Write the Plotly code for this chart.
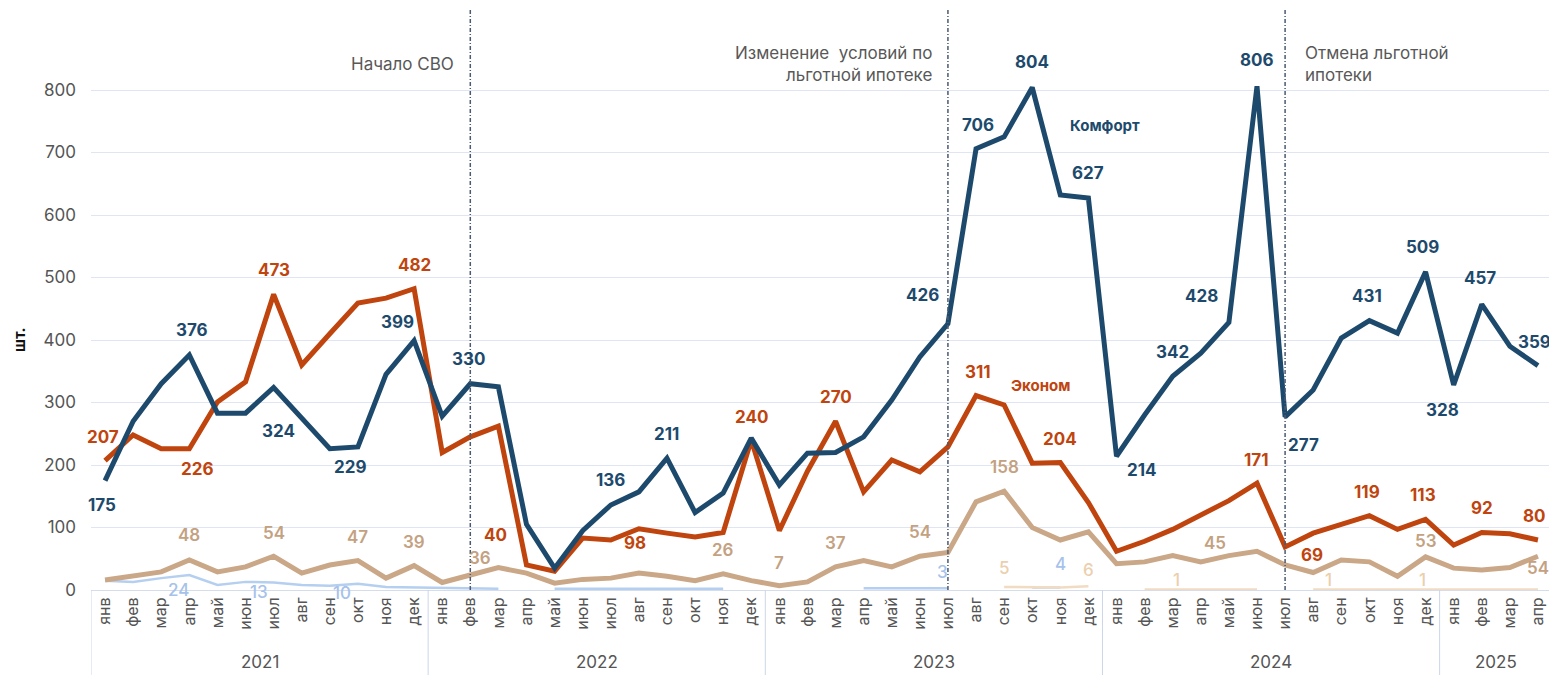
import plotly.graph_objects as go

# ---------------- data ----------------
years = ["2021", "2022", "2023", "2024", "2025"]
months = ["янв", "фев", "мар", "апр", "май", "июн", "июл", "авг", "сен", "окт", "ноя", "дек"]
months_per_year = [12, 12, 12, 12, 4]
month_labels = [m for n in months_per_year for m in months[:n]]

comfort = [175, 270, 330, 376, 283, 283, 324, 275, 226, 229, 345, 399,
           278, 330, 325, 105, 35, 95, 136, 157, 211, 124, 155, 243,
           168, 219, 220, 245, 304, 373, 426, 706, 725, 804, 632, 627,
           214, 280, 342, 379, 428, 806, 277, 320, 403, 431, 411, 509,
           328, 457, 390, 359]
econom = [207, 248, 226, 226, 301, 333, 473, 360, 410, 459, 467, 482,
          220, 245, 262, 40, 30, 83, 80, 98, 91, 85, 92, 240,
          95, 190, 270, 157, 208, 189, 229, 311, 296, 203, 204, 140,
          62, 78, 97, 120, 143, 171, 69, 91, 104, 119, 97, 113,
          72, 92, 90, 80]
business = [16, 22, 29, 48, 29, 37, 54, 27, 40, 47, 19, 39,
            12, 24, 36, 27, 11, 17, 19, 27, 22, 15, 26, 15,
            7, 13, 37, 47, 37, 54, 60, 141, 158, 100, 80, 93,
            42, 45, 55, 45, 55, 62, 40, 28, 48, 45, 22, 53,
            35, 32, 36, 54]
premium = [15, 13, 19, 24, 8, 13, 12, 8, 7, 10, 5, 4,
           3, 2, 2, None, 2, 2, 2, 2, 2, 2, 2, None,
           None, None, None, 3, 3, 3, 3, None, None, 4, 4, None,
           None, None, None, None, None, None, None, None, None, None, None, None,
           None, None, None, None]
elite = [None] * 12 + [None] * 12 + \
        [None, None, None, None, None, None, None, None, 5, 4, 4, 6] + \
        [None, 1, 1, 1, 1, 1, None, 1, 1, 1, 1, 1] + \
        [1, 1, 1, 1]

# indices of the points that carry a value label
comfort_lbl = [0, 3, 6, 9, 11, 13, 18, 20, 30, 31, 33, 35, 36, 38, 40, 41, 42, 45, 47, 48, 49, 51]
econom_lbl = [0, 3, 6, 11, 15, 19, 23, 26, 31, 34, 41, 42, 45, 47, 49, 51]
business_lbl = [3, 6, 9, 11, 14, 22, 24, 26, 29, 32, 39, 47, 51]
premium_lbl = [3, 5, 9, 30, 34]
elite_lbl = [32, 35, 38, 43, 47]

events = [(13, "Начало СВО"), (30, "Изменение  условий по<br>льготной ипотеке"), (42, "Отмена льготной<br>ипотеки")]

# ---------------- style ----------------
BLUE = "#1d4a6c"
ORANGE = "#c0440e"
TAN = "#c9a787"
TAN_TXT = "#c3a181"
LBLUE = "#b5cff0"
LBLUE_TXT = "#a6c2ea"
PEACH = "#f1dcc3"
PEACH_TXT = "#ebcfae"
FONT = "Inter, Open Sans, sans-serif"

# label offsets in pixels (xshift, yshift), same order as label index lists
comfort_off = [(-3, -24), (3, 25), (5, -43), (-8, -20), (-17, 19), (-2, 25), (0, 25), (0, 24),
               (-25, 29), (2, 24), (0, 26), (0, 25), (25, -14), (0, 24), (-27, 27), (0, 26),
               (18, -28), (-2, 25), (-3, 25), (-11, -25), (-2, 26), (-3, 24)]
econom_off = [(-2, 24), (8, -20), (0, 24), (0, 24), (-31, 30), (-4, -14), (0, 23), (0, 24),
              (2, 24), (0, 24), (0, 23), (27, -8), (-2, 24), (-3, 24), (0, 25), (-3, 24)]
business_off = [(0, 25), (0, 23), (0, 24), (0, 24), (-18, 10), (0, 24), (0, 23), (0, 24),
                (0, 24), (0, 24), (14, 19), (0, 16), (0, -12)]
premium_off = [(-11, -15), (13, -10), (-16, -9), (-5, 16), (0, 24)]
elite_off = [(0, 19), (0, 16), (4, 9), (15, 9), (-3, 9)]

x = list(range(len(month_labels)))

fig = go.Figure()
series = [
    ("Премиум", premium, LBLUE, 2.5),
    ("Элит", elite, PEACH, 2.5),
    ("Бизнес", business, TAN, 5),
    ("Эконом", econom, ORANGE, 5),
    ("Комфорт", comfort, BLUE, 5),
]
for name, vals, col, w in series:
    fig.add_trace(go.Scatter(x=x, y=vals, name=name, mode="lines",
                             line=dict(color=col, width=w), connectgaps=False,
                             hoverinfo="x+y+name"))

ann = []


def add_labels(vals, idxs, offs, color, weight, size=17):
    for i, (dx, dy) in zip(idxs, offs):
        ann.append(dict(x=i, y=vals[i], xref="x", yref="y", text=str(vals[i]),
                        showarrow=False, xshift=dx, yshift=dy,
                        font=dict(family=FONT, size=size, color=color, weight=weight)))


add_labels(comfort, comfort_lbl, comfort_off, BLUE, 700)
add_labels(econom, econom_lbl, econom_off, ORANGE, 700)
add_labels(business, business_lbl, business_off, TAN_TXT, 600)
add_labels(premium, premium_lbl, premium_off, LBLUE_TXT, 500)
add_labels(elite, elite_lbl, elite_off, PEACH_TXT, 500)

# series names
ann.append(dict(x=35.6, y=744, xref="x", yref="y", text="Комфорт", showarrow=False,
                font=dict(family=FONT, size=15, color=BLUE, weight=700)))
ann.append(dict(x=33.3, y=328, xref="x", yref="y", text="Эконом", showarrow=False,
                font=dict(family=FONT, size=15, color=ORANGE, weight=700)))

# y-axis unit
ann.append(dict(x=0, y=400, xref="paper", yref="y", text="шт.", showarrow=False,
                textangle=-90, xanchor="center", yanchor="middle", xshift=-72,
                font=dict(family=FONT, size=15, color="#111111", weight=700)))

# event lines and texts
shapes = []
for (ix, txt), side in zip(events, ["left", "left", "right"]):
    shapes.append(dict(type="line", x0=ix, x1=ix, xref="x", y0=0, y1=1, yref="paper",
                       line=dict(color="#4b5a73", width=1.5, dash="4px,2px,1px,2px")))
    ann.append(dict(x=ix, y=842, xref="x", yref="y", text=txt, showarrow=False,
                    xanchor="right" if side == "left" else "left",
                    align="right" if side == "left" else "left",
                    xshift=-14 if side == "left" else 18,
                    font=dict(family=FONT, size=17, color="#585858")))

# year groups and dividers
start = 0
bounds = [-0.5]
for yr, n in zip(years, months_per_year):
    ann.append(dict(x=start + (n - 1) / 2, y=0, xref="x", yref="paper", text=yr,
                    showarrow=False, yanchor="middle", yshift=-72,
                    font=dict(family=FONT, size=17, color="#555555")))
    start += n
    bounds.append(start - 0.5)
for b in bounds:
    shapes.append(dict(type="line", x0=b, x1=b, xref="x", y0=0, y1=-0.16, yref="paper",
                       line=dict(color="#ccd6ea", width=1)))

# the page body has an 8px margin: size and margins compensate for it
fig.update_layout(
    width=1549, height=667,
    margin=dict(l=83, r=5, t=1, b=85, autoexpand=False),
    paper_bgcolor="white", plot_bgcolor="white",
    showlegend=False,
    annotations=ann, shapes=shapes,
    font=dict(family=FONT, color="#555555"),
    xaxis=dict(range=[-0.5, len(x) - 0.5], tickmode="array", tickvals=x, ticktext=month_labels,
               tickangle=-90, showgrid=False, zeroline=False, showline=True, automargin=False,
               linecolor="#d5dcec", linewidth=1, ticks="",
               tickfont=dict(family=FONT, size=16, color="#555555")),
    yaxis=dict(range=[0, 929.6], tickmode="array", tickvals=list(range(0, 801, 100)),
               showgrid=True, gridcolor="#dfe5f3", gridwidth=1, zeroline=False,
               ticks="", ticklabelstandoff=14, automargin=False,
               tickfont=dict(family=FONT, size=17, color="#555555")),
)

fig.write_html("out.html")
